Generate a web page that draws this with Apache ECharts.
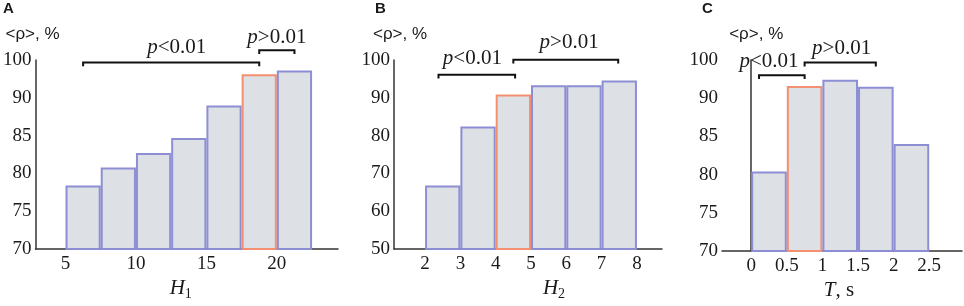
<!DOCTYPE html>
<html>
<head>
<meta charset="utf-8">
<script src="https://cdn.jsdelivr.net/npm/echarts@6/dist/echarts.min.js"></script>
<style>
  html, body { margin: 0; padding: 0; background: #fff; }
  #chart { width: 964px; height: 306px; }
</style>
</head>
<body>
<div id="chart"></div>
<script>
// panel A: H1
const h1Edges = [5, 7.5, 10, 12.5, 15, 17.5, 20, 22.5];
const rhoA = [78.4, 80.8, 82.7, 84.7, 89.0, 93.1, 93.6];
const bestA = 5;
const xTicksA = [5, 10, 15, 20];
const yTicksA = [70, 75, 80, 85, 90, 95];
const yTextA = ["70", "75", "80", "85", "90", "100"];
const bracketsA = [[6.25, 18.75, 94.66], [18.75, 21.25, 96.3]];
const pLabelsA = [[12.9, 96.6, "<"], [20.0, 98.0, ">"]];

// panel B: H2
const h2Edges = [2, 3, 4, 5, 6, 7, 8];
const rhoB = [66.8, 82.4, 90.9, 93.3, 93.3, 94.6];
const bestB = 2;
const xTicksB = [2, 3, 4, 5, 6, 7, 8];
const yTicksB = [50, 60, 70, 80, 90, 100];
const yTextB = ["50", "60", "70", "80", "90", "100"];
const bracketsB = [[2.38, 4.55, 96.1], [4.5, 7.47, 100.05]];
const pLabelsB = [[3.34, 100.5, "<"], [6.08, 104.6, ">"]];

// panel C: T
const tEdges = [0, 0.5, 1, 1.5, 2, 2.5];
const rhoC = [80.4, 91.6, 92.4, 91.5, 84.0];
const bestC = 1;
const xTicksC = [0, 0.5, 1, 1.5, 2, 2.5];
const yTicksC = [70, 75, 80, 85, 90, 95];
const yTextC = ["70", "75", "80", "85", "90", "100"];
const bracketsC = [[0.11, 0.75, 93.0], [0.75, 1.75, 94.66]];
const pLabelsC = [[0.25, 94.8, "<"], [1.27, 96.5, ">"]];

const FILL = "#dde1e5";
const PURPLE = "#8d8ed3";
const ORANGE = "#f3906f";
const INK = "#1a1a1a";
const SERIF = "Liberation Serif";
const SANS = "Liberation Sans";

const chart = echarts.init(document.getElementById("chart"));

function barData(edges, values, base, best) {
  return values.map((v, i) => [edges[i], edges[i + 1], v, base, i === best ? 1 : 0]);
}

function renderBar(params, api) {
  const top = api.coord([api.value(0), api.value(2)]);
  const bot = api.coord([api.value(1), api.value(3)]);
  return {
    type: "rect",
    shape: { x: top[0] + 1, y: top[1] + 1, width: bot[0] - top[0] - 2, height: bot[1] - top[1] - 1 },
    style: { fill: FILL, stroke: api.value(4) ? ORANGE : PURPLE, lineWidth: 2 },
  };
}

function bracketRenderer(drop) {
  return (params, api) => {
    const y = api.value(2);
    const pts = [
      api.coord([api.value(0), y - drop]),
      api.coord([api.value(0), y]),
      api.coord([api.value(1), y]),
      api.coord([api.value(1), y - drop]),
    ];
    return {
      type: "polyline",
      shape: { points: pts },
      style: { stroke: "#111", lineWidth: 2, fill: null },
    };
  };
}

function labelRenderer(labels) {
  return (params, api) => {
    const p = api.coord([api.value(0), api.value(1)]);
    return {
      type: "text",
      x: p[0],
      y: p[1],
      style: {
        text: "{i|p}{n|" + labels[params.dataIndex][2] + "0.01}",
        align: "center",
        verticalAlign: "middle",
        rich: {
          i: { fontFamily: SERIF, fontStyle: "italic", fontSize: 21, fill: INK },
          n: { fontFamily: SERIF, fontSize: 21, fill: INK },
        },
      },
    };
  };
}

const grids = [
  { left: 32, top: 60, width: 306, height: 200 },
  { left: 394, top: 60, width: 268, height: 200 },
  { left: 722, top: 60, width: 240, height: 200 },
];

function xAxis(i, min, max, ticks, nameRich, shift) {
  return {
    type: "value",
    gridIndex: i,
    min, max,
    name: nameRich,
    nameLocation: "middle",
    nameGap: 21,
    nameTextStyle: {
      padding: shift > 0 ? [0, 0, 0, shift * 2] : [0, -shift * 2, 0, 0],
      rich: {
        i: { fontFamily: SERIF, fontStyle: "italic", fontSize: 21, color: INK, lineHeight: 23, verticalAlign: "top" },
        s: { fontFamily: SERIF, fontSize: 14, color: INK, lineHeight: 23, verticalAlign: "bottom" },
        n: { fontFamily: SERIF, fontSize: 21, color: INK, lineHeight: 23, verticalAlign: "top" },
      },
    },
    splitLine: { show: false },
    axisTick: { show: false },
    axisLine: { show: true, onZero: false, lineStyle: { color: "#333", width: 1.5 } },
    axisLabel: {
      customValues: ticks,
      margin: 5,
      fontFamily: SERIF,
      fontSize: 19,
      color: INK,
    },
  };
}

function yAxis(i, min, max, ticks, texts, shift) {
  return {
    type: "value",
    gridIndex: i,
    min, max,
    name: "<ρ>, %",
    nameLocation: "end",
    nameGap: 17,
    nameTextStyle: {
      fontFamily: SANS, fontSize: 17, color: INK, align: "center",
      padding: shift > 0 ? [0, 0, 0, shift * 2] : [0, -shift * 2, 0, 0],
    },
    splitLine: { show: false },
    axisTick: { show: false },
    axisLine: { show: true, lineStyle: { color: "#333", width: 1.5 } },
    axisLabel: {
      customValues: ticks,
      margin: 4,
      fontFamily: SERIF,
      fontSize: 19,
      color: INK,
      formatter: (v) => {
        const k = ticks.indexOf(v);
        return k >= 0 ? texts[k] : "";
      },
    },
  };
}

const panels = [
  { edges: h1Edges, vals: rhoA, best: bestA, base: 70, br: bracketsA, pl: pLabelsA, drop: 0.5 },
  { edges: h2Edges, vals: rhoB, best: bestB, base: 50, br: bracketsB, pl: pLabelsB, drop: 1.0 },
  { edges: tEdges, vals: rhoC, best: bestC, base: 70, br: bracketsC, pl: pLabelsC, drop: 0.5 },
];

const series = [];
panels.forEach((p, i) => {
  series.push({
    type: "custom", xAxisIndex: i, yAxisIndex: i, clip: false,
    renderItem: renderBar,
    data: barData(p.edges, p.vals, p.base, p.best),
  });
  series.push({
    type: "custom", xAxisIndex: i, yAxisIndex: i, clip: false,
    renderItem: bracketRenderer(p.drop),
    data: p.br,
  });
  series.push({
    type: "custom", xAxisIndex: i, yAxisIndex: i, clip: false,
    renderItem: labelRenderer(p.pl),
    data: p.pl.map((d) => [d[0], d[1]]),
  });
});

const panelLetter = (txt, x) => ({
  type: "text", left: x, top: 1,
  style: { text: txt, fontFamily: SANS, fontWeight: "bold", fontSize: 15, fill: INK },
});

chart.setOption({
  animation: false,
  grid: grids,
  xAxis: [
    xAxis(0, 2.87, 24.34, xTicksA, "{i|H}{s|1}", -6),
    xAxis(1, 1.12, 8.71, xTicksB, "{i|H}{s|2}", 26),
    xAxis(2, -0.41, 2.96, xTicksC, "{i|T}{n|, s}", -3),
  ],
  yAxis: [
    yAxis(0, 70, 95, yTicksA, yTextA, -3),
    yAxis(1, 50, 100, yTicksB, yTextB, 6),
    yAxis(2, 70, 95, yTicksC, yTextC, 5),
  ],
  graphic: [panelLetter("A", 3), panelLetter("B", 375), panelLetter("C", 702)],
  series,
});
</script>
</body>
</html>
